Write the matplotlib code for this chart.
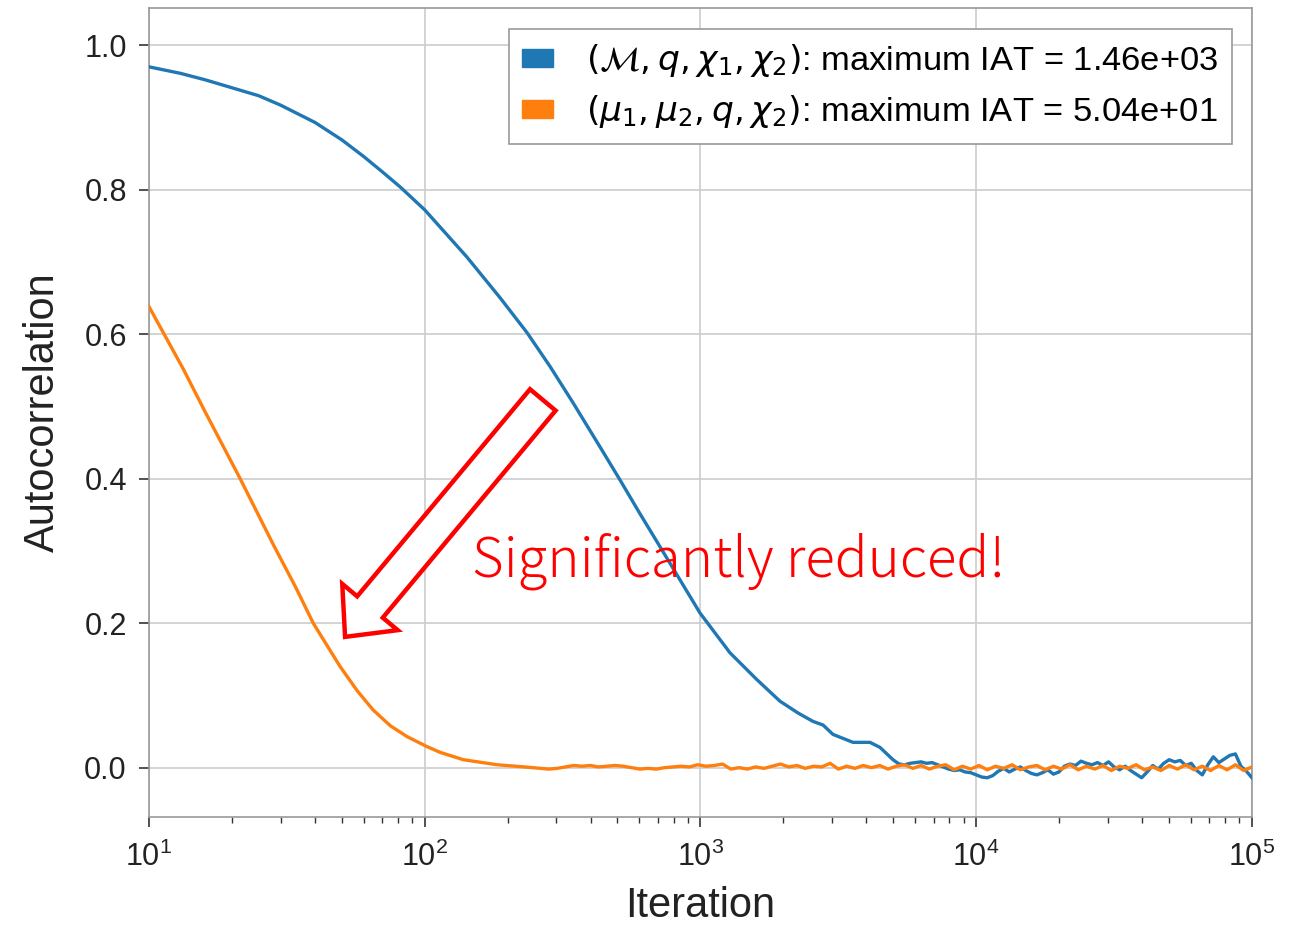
import numpy as np
import matplotlib
matplotlib.use("Agg")
import matplotlib.pyplot as plt
from matplotlib.patches import Patch

# --- autocorrelation of the (M, q, chi1, chi2) chain ---
blue_lag = [10, 13, 16, 20, 25, 30, 40, 50, 60, 70, 81.3, 100, 142, 187, 235, 285,
            345, 432, 511, 600, 731, 996, 1279, 1600, 1942, 2250, 2559, 2782, 3024,
            3575, 4120, 4478, 4990]
blue_acf = [0.970, 0.961, 0.952, 0.941, 0.930, 0.917, 0.893, 0.869, 0.846, 0.825, 0.804,
            0.772, 0.707, 0.651, 0.602, 0.555, 0.505, 0.444, 0.398, 0.353, 0.299, 0.214,
            0.159, 0.122, 0.092, 0.076, 0.064, 0.059, 0.046, 0.035, 0.035, 0.028, 0.011]
# noisy tail, lags evenly spaced in log10 from 3.72 to 5.0
blue_tail_acf = [0.005, 0.004, 0.006, 0.007, 0.008, 0.006, 0.007, 0.004, 0.001, -0.002,
                 -0.004, -0.003, -0.006, -0.007, -0.010, -0.013, -0.014, -0.011, -0.005, -0.001,
                 -0.006, -0.002, 0.001, -0.004, -0.008, -0.010, -0.007, -0.003, -0.009, -0.006,
                 0.002, 0.005, 0.003, 0.009, 0.006, 0.004, 0.007, 0.003, 0.008, 0.001,
                 -0.003, 0.002, -0.004, -0.009, -0.014, -0.006, 0.003, -0.002, 0.006, 0.011,
                 0.008, 0.010, 0.003, 0.006, -0.004, -0.010, 0.004, 0.015, 0.007, 0.012,
                 0.017, 0.019, 0.002, -0.005, -0.014]

# --- autocorrelation of the (mu1, mu2, q, chi2) chain ---
orange_lag = [10.0, 13.3, 16.0, 21.4, 28.2, 34.0, 39.4, 49.3, 57.0, 64.9, 75.0, 86.2,
              102, 114, 138, 183, 230]
orange_acf = [0.638, 0.552, 0.492, 0.400, 0.309, 0.250, 0.200, 0.140, 0.106, 0.080, 0.058,
              0.043, 0.029, 0.021, 0.011, 0.004, 0.001]
# noisy tail, lags evenly spaced in log10 from 2.42 to 5.0
orange_tail_acf = [-0.001, -0.002, -0.001, 0.001, 0.003, 0.002, 0.003, 0.001, 0.002, 0.003,
                   0.002, 0.000, -0.002, -0.001, -0.002, 0.000, 0.001, 0.002, 0.001, 0.004,
                   0.002, 0.003, 0.005, -0.002, 0.000, -0.002, 0.001, -0.001, 0.002, 0.005,
                   0.001, 0.003, -0.001, 0.002, 0.001, 0.006, -0.002, 0.002, -0.001, 0.003,
                   0.000, 0.003, -0.002, 0.002, 0.004, -0.001, 0.003, -0.002, 0.002, 0.004,
                   -0.003, 0.002, -0.002, 0.003, -0.003, 0.002, -0.001, 0.004, -0.003, 0.001,
                   0.003, -0.003, 0.002, -0.002, 0.004, -0.003, 0.002, -0.002, 0.003, -0.004,
                   0.002, -0.001, 0.004, -0.003, 0.001, -0.004, 0.003, -0.002, 0.004, -0.003,
                   0.002, -0.004, 0.003, -0.003, 0.004, -0.004, 0.001]

labels = [r"$(\mathcal{M}, q, \chi_1, \chi_2)$: maximum IAT = 1.46e+03",
          r"$(\mu_1, \mu_2, q, \chi_2)$: maximum IAT = 5.04e+01"]
colors = ["#1f77b4", "#ff7f0e"]
yticks = [0.0, 0.2, 0.4, 0.6, 0.8, 1.0]

plt.rcParams["font.family"] = ["Liberation Sans", "DejaVu Sans"]
plt.rcParams["mathtext.fontset"] = "dejavusans"

blue_x = np.concatenate([blue_lag, np.logspace(3.72, 5.0, len(blue_tail_acf))])
blue_y = np.concatenate([blue_acf, blue_tail_acf])
orange_x = np.concatenate([orange_lag, np.logspace(2.42, 5.0, len(orange_tail_acf))])
orange_y = np.concatenate([orange_acf, orange_tail_acf])

fig = plt.figure(figsize=(12.96, 9.25), dpi=100)
ax = fig.add_axes([0.115, 0.117, 0.851, 0.874])

ax.plot(blue_x, blue_y, color=colors[0], lw=2.4, zorder=3)
ax.plot(orange_x, orange_y, color=colors[1], lw=2.4, zorder=4)

ax.set_xscale("log")
ax.set_xlim(10, 1e5)
ax.set_ylim(-0.068, 1.051)
ax.set_yticks(yticks)
ax.set_yticklabels([f"{t:.1f}" for t in yticks])

ax.grid(True, which="major", color="#cccccc", lw=1.2)
ax.set_axisbelow(True)
for sp in ax.spines.values():
    sp.set_color("#999999")
    sp.set_linewidth(1.2)
ax.tick_params(axis="both", which="major", direction="out", length=7, width=1.2,
               color="#333333", labelsize=22, labelcolor="#222222")
ax.tick_params(axis="x", which="major", pad=11)
ax.tick_params(axis="y", which="major", pad=9)
ax.tick_params(axis="x", which="minor", direction="out", length=4, width=1.0,
               color="#333333")
ax.tick_params(axis="y", which="minor", left=False)

ax.set_xlabel("Iteration", fontsize=30, color="#222222", labelpad=9)
ax.set_ylabel("Autocorrelation", fontsize=30, color="#222222", labelpad=15)

handles = [Patch(facecolor=c, edgecolor=c) for c in colors]
leg = ax.legend(handles, labels, loc="upper right", fontsize=24.8, fancybox=False,
                framealpha=1.0, edgecolor="#999999", handlelength=0.9,
                handleheight=0.44, handletextpad=0.95, borderpad=0.4,
                labelspacing=0.4, borderaxespad=0,
                bbox_to_anchor=(0.982, 0.975))
leg.get_frame().set_linewidth(1.2)

# hollow arrow pointing from the slow chain down to the fast one
ax.annotate("", xy=(51.4, 0.181), xytext=(268, 0.509),
            arrowprops=dict(arrowstyle="simple,head_length=28,head_width=52,tail_width=24",
                            mutation_scale=1, fc="white", ec="red", lw=3.2,
                            shrinkA=0, shrinkB=0, joinstyle="miter"),
            zorder=6)
ax.text(148, 0.285, "Significantly reduced!", color="red", fontsize=39.3,
        family=["Noto Sans CJK JP", "DejaVu Sans"], fontweight="light",
        ha="left", va="center", zorder=6)

fig.savefig("out.png", dpi=100)
